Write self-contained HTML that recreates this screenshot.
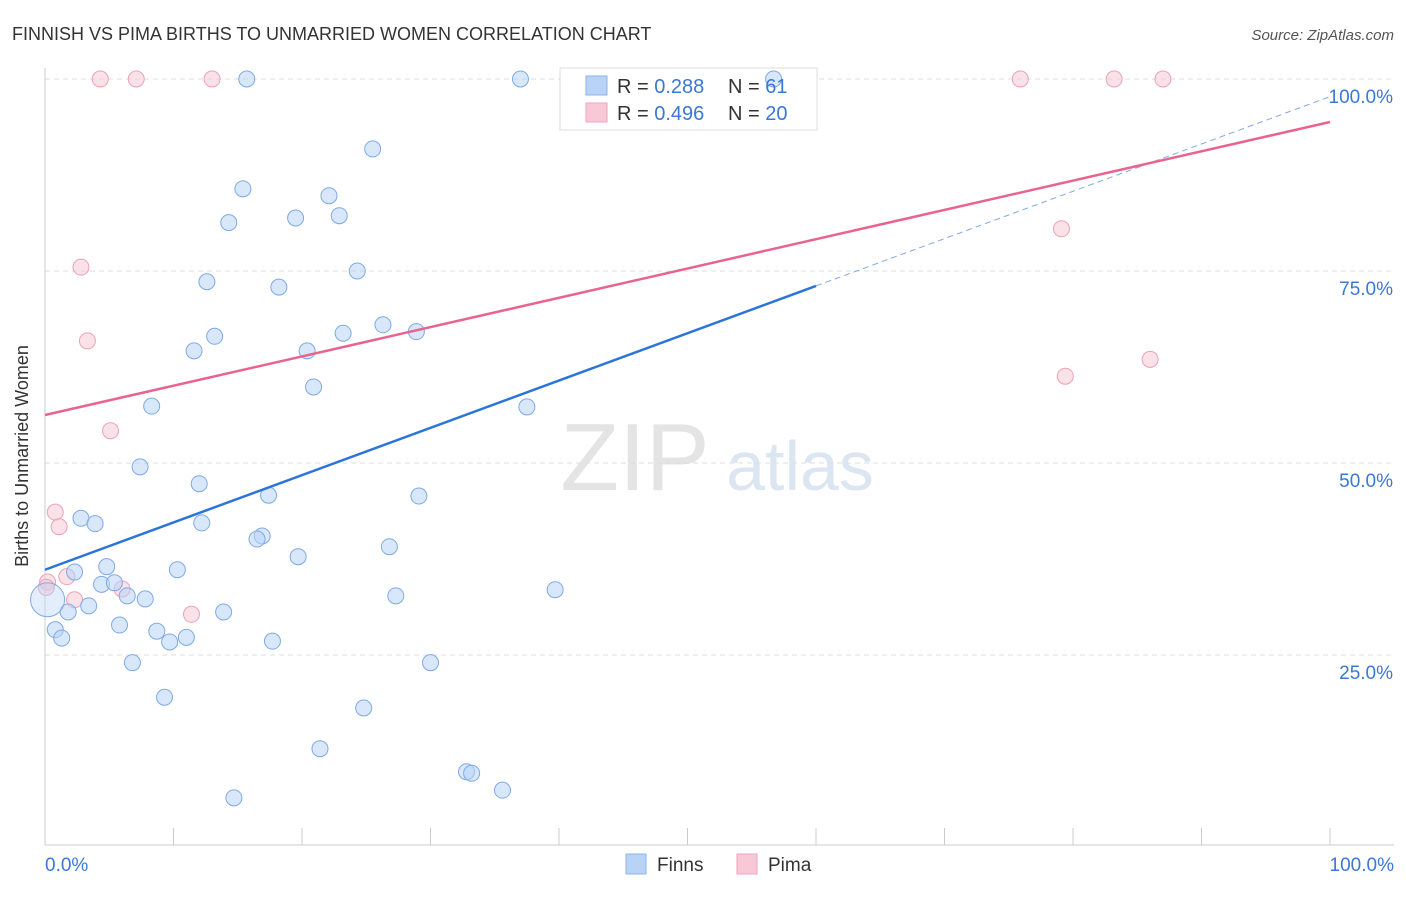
<!DOCTYPE html>
<html><head><meta charset="utf-8"><style>
body{margin:0;background:#fff;font-family:"Liberation Sans",sans-serif}
svg text{font-family:"Liberation Sans",sans-serif}
</style></head><body>
<svg id="c" width="1406" height="892" xmlns="http://www.w3.org/2000/svg">
<text x="12" y="40" font-size="18" fill="#333">FINNISH VS PIMA BIRTHS TO UNMARRIED WOMEN CORRELATION CHART</text>
<text x="1394" y="40" font-size="15" fill="#555" font-style="italic" text-anchor="end">Source: ZipAtlas.com</text>
<text x="28" y="456" font-size="18" fill="#333" text-anchor="middle" transform="rotate(-90 28 456)">Births to Unmarried Women</text>
<g><text x="635" y="490" font-size="96" fill="#e4e4e4" font-family="Liberation Serif" text-anchor="middle">ZIP</text><text x="800" y="490" font-size="70" fill="#dce6f2" text-anchor="middle">atlas</text></g>
<g id="grid"></g><g id="axes"></g>
<rect x="560" y="68" width="257" height="62" fill="#fff" stroke="#ddd"/>
<g id="marks"></g>
<g>
<rect x="586" y="76" width="21" height="19" fill="#b8d3f5" stroke="#8ab4ea"/>
<rect x="586" y="103" width="21" height="19" fill="#f8c8d6" stroke="#eea6bc"/>
<text x="617" y="93" font-size="20" fill="#333">R = <tspan fill="#3a78d4">0.288</tspan></text>
<text x="728" y="93" font-size="20" fill="#333">N = <tspan fill="#3a78d4"> 61</tspan></text>
<text x="617" y="120" font-size="20" fill="#333">R = <tspan fill="#3a78d4">0.496</tspan></text>
<text x="728" y="120" font-size="20" fill="#333">N = <tspan fill="#3a78d4">20</tspan></text>
</g>
<g>
<rect x="626" y="854" width="20" height="20" fill="#b8d3f5" stroke="#8ab4ea"/><text x="657" y="871" font-size="19" fill="#333">Finns</text>
<rect x="737" y="854" width="20" height="20" fill="#f8c8d6" stroke="#eea6bc"/><text x="768" y="871" font-size="19" fill="#333">Pima</text>
</g>
</svg>
<script>
const blueX=[15.7,37.0,56.7,25.5,15.4,22.1,19.5,22.9,14.3,24.3,12.6,18.2,26.3,28.9,23.2,13.2,11.6,20.4,20.9,8.3,37.5,7.4,12.0,17.4,29.1,2.8,3.9,12.2,16.9,16.5,26.8,19.7,2.3,4.8,10.3,4.4,5.4,6.4,7.8,39.7,27.3,3.4,1.8,13.9,0.8,5.8,8.7,1.3,11.0,9.7,17.7,6.8,30.0,9.3,24.8,21.4,32.8,33.2,35.6,14.7,0.2];
const blueY=[100,100,100,90.9,85.7,84.8,81.9,82.2,81.3,75.0,73.6,72.9,68.0,67.1,66.9,66.5,64.6,64.6,59.9,57.4,57.3,49.5,47.3,45.8,45.7,42.8,42.1,42.2,40.5,40.1,39.1,37.8,35.8,36.5,36.1,34.2,34.4,32.7,32.3,33.5,32.7,31.4,30.6,30.6,28.3,28.9,28.1,27.2,27.3,26.7,26.8,24.0,24.0,19.5,18.1,12.8,9.8,9.6,7.4,6.4,32.2];
const pinkX=[4.3,7.1,13.0,75.9,83.2,87.0,2.8,3.3,79.1,86.0,79.4,5.1,0.8,1.1,1.7,0.2,6.0,2.3,11.4,0.1];
const pinkY=[100,100,100,100,100,100,75.5,65.9,80.5,63.5,61.3,54.2,43.6,41.7,35.2,34.5,33.6,32.2,30.3,33.8];
const blueLine=[36.1,97.7], pinkLine=[56.25,94.4];
const yTicks=[25,50,75,100];
const sx=v=>45+v*12.85, sy=v=>847-v*7.68;
const NS="http://www.w3.org/2000/svg";
function mk(p,t,a){const e=document.createElementNS(NS,t);for(const k in a)e.setAttribute(k,a[k]);p.appendChild(e);return e;}
const G=document.getElementById('grid'),A=document.getElementById('axes'),M=document.getElementById('marks');
yTicks.forEach(v=>{
 const l=mk(G,'line',{x1:45,x2:1394,y1:sy(v),y2:sy(v),stroke:'#ddd','stroke-dasharray':'5,4'});
 
 
 const t=mk(G,'text',{x:1393,y:sy(v)+24,'font-size':19,fill:'#3a78d4','text-anchor':'end'});t.textContent=v.toFixed(1)+'%';
 
 
});
const ax=mk(A,'line',{x1:45,x2:45,y1:68,y2:845,stroke:'#ccc'});


const bx=mk(A,'line',{x1:45,x2:1394,y1:845,y2:845,stroke:'#ccc'});


for(let i=1;i<=10;i++){const t=mk(A,'line',{x1:sx(i*10),x2:sx(i*10),y1:828,y2:845,stroke:'#ccc'});
 
 }
[[0,'0.0%','start',45],[100,'100.0%','end',1394]].forEach(d=>{const t=mk(A,'text',{x:d[3],y:871,'font-size':19,fill:'#3a78d4','text-anchor':d[2]});t.textContent=d[1];
 
 });
function pts(X,Y,fill,stroke,name){X.forEach((x,i)=>{const big=(name=='finns-point'&&i==X.length-1);const c=mk(M,'circle',{cx:sx(x),cy:sy(Y[i]),r:big?17:8,fill:fill,stroke:stroke,'fill-opacity':big?0.4:0.55});
 
 });}
pts(pinkX,pinkY,'#f8c8d6','#eba2b8','pima-point');
pts(blueX,blueY,'#b8d3f5','#7eaae6','finns-point');
const bx1=60;
const b1=mk(M,'line',{x1:sx(0),y1:sy(blueLine[0]),x2:sx(bx1),y2:sy(blueLine[0]+(blueLine[1]-blueLine[0])*bx1/100),stroke:'#2b74d8','stroke-width':2.5});


const b2=mk(M,'line',{x1:sx(bx1),y1:sy(blueLine[0]+(blueLine[1]-blueLine[0])*bx1/100),x2:sx(100),y2:sy(blueLine[1]),stroke:'#7eaae6','stroke-width':1,'stroke-dasharray':'6,4'});


const p1=mk(M,'line',{x1:sx(0),y1:sy(pinkLine[0]),x2:sx(100),y2:sy(pinkLine[1]),stroke:'#e8648e','stroke-width':2.5});


</script>
</body></html>
